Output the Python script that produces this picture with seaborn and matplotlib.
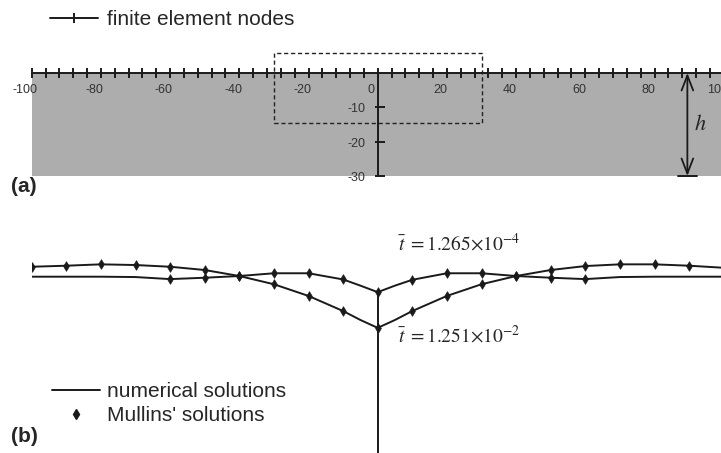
import matplotlib
matplotlib.use("Agg")
import matplotlib.pyplot as plt
import seaborn as sns
from matplotlib.lines import Line2D
from matplotlib.patches import Rectangle

# ---------------- data ----------------
# (a) finite element mesh of the surface
node_x = list(range(-100, 101, 4))
x_tick_values = [-100, -80, -60, -40, -20, 0, 20, 40, 60, 80, 100]
depth_tick_values = [-10, -20, -30]
domain_depth = -30
window_x = [-30, 30]
window_y = [-14.6, 5.8]
h_arrow_x = 89.5

# (b) surface profiles
profile_x = [-100, -90, -80, -70, -60, -50, -40, -30, -20, -10, -5, 0,
             5, 10, 20, 30, 40, 50, 60, 70, 80, 90, 100]
num_short = [0.0, 0.0, 0.0, -0.1, -0.7, -0.3, 0.2, 1.0, 1.0, -0.8, -2.6, -4.5,
             -2.6, -0.9, 1.0, 1.0, 0.2, -0.3, -0.7, -0.1, 0.0, 0.0, 0.0]
num_long = [2.9, 3.2, 3.6, 3.4, 2.9, 1.95, 0.2, -2.2, -5.6, -10.0, -12.6, -14.9,
            -12.6, -10.0, -5.6, -2.2, 0.2, 1.95, 3.1, 3.6, 3.6, 3.2, 2.6]

mullins_x_short = [-60, -50, -40, -30, -20, -10, 0, 10, 20, 30, 40, 50, 60]
mullins_short = [-0.7, -0.3, 0.2, 1.0, 1.0, -0.8, -4.5, -0.9, 1.0, 1.0, 0.2, -0.3, -0.7]
mullins_x_long = [-100, -90, -80, -70, -60, -50, -40, -30, -20, -10, 0,
                  10, 20, 30, 40, 50, 60, 70, 80, 90]
mullins_long = [2.9, 3.2, 3.6, 3.4, 2.9, 1.95, 0.2, -2.2, -5.6, -10.0, -14.9,
                -10.0, -5.6, -2.2, 0.2, 1.95, 3.1, 3.6, 3.6, 3.2]

label_short = r"$\bar{t}\;{=}1.265{\times}10^{-4}$"
label_long = r"$\bar{t}\;{=}1.251{\times}10^{-2}$"

# ---------------- style ----------------
sns.set_theme(style="white")
plt.rcParams["font.family"] = ["Liberation Sans", "DejaVu Sans"]
plt.rcParams["mathtext.fontset"] = "stix"

W, H = 721, 453
fig = plt.figure(figsize=(W / 100, H / 100), dpi=100)
fig.patch.set_facecolor("white")

def fx(px):
    return px / W

def fy(py):
    return 1 - py / H

x0_px, x_w_px = 31.7, 692.0

# ---------------- (a) ----------------
ax1 = fig.add_axes([fx(x0_px), fy(196), x_w_px / W, 156 / H])
ax1.set_xlim(-100, 100)
ax1.set_ylim(-35.83, 9.61)
ax1.set_axis_off()

ax1.fill_between([min(node_x), max(node_x)], domain_depth, 0,
                 color="#adadad", lw=0, zorder=1)
ax1.plot(node_x, [0] * len(node_x), color="k", lw=1.4,
         marker="|", markersize=7, markeredgewidth=1.4,
         markeredgecolor="k", clip_on=False, zorder=6)

# vertical depth axis
depth_line = [0] + depth_tick_values
ax1.plot([0] * len(depth_line), depth_line, color="k", lw=1.4, zorder=4)
ax1.plot([0.6] * len(depth_tick_values), depth_tick_values, ls="none",
         marker="_", markersize=7, markeredgewidth=1.4, color="k", zorder=4)
for v in depth_tick_values:
    ax1.text(-3.5, v - 0.6, f"{v}", ha="right", va="center",
             fontsize=9, color="#333333")
for v in x_tick_values:
    ax1.text(v - 1.8, -4.9, f"{v}", ha="center", va="center",
             fontsize=9, color="#333333", clip_on=False)

# dashed window
ax1.add_patch(Rectangle((window_x[0], window_y[0]), window_x[1] - window_x[0],
                        window_y[1] - window_y[0], fill=False, ec="#222222",
                        lw=1.0, ls=(0, (3, 2)), zorder=3))

# thickness arrow h
ax1.annotate("", xy=(h_arrow_x, domain_depth), xytext=(h_arrow_x, 0),
             arrowprops=dict(arrowstyle="<->,head_length=0.9,head_width=0.35",
                             color="k", lw=1.3, shrinkA=0, shrinkB=0),
             zorder=5)
ax1.plot([h_arrow_x - 2.7, h_arrow_x + 2.7], [domain_depth, domain_depth],
         color="k", lw=1.4, zorder=5)
ax1.text(h_arrow_x + 3.8, -15.1, r"$h$", fontsize=16, ha="center", va="center")

fig.legend(handles=[Line2D([], [], color="k", lw=1.4, marker="|",
                           markersize=7, markeredgewidth=1.4)],
           labels=["finite element nodes"], loc="upper left",
           bbox_to_anchor=(fx(50), fy(10)), frameon=False, fontsize=15,
           handlelength=2.3, handletextpad=0.45, borderpad=0,
           borderaxespad=0)
fig.text(fx(11), fy(186), "(a)", fontsize=15, fontweight="bold",
         ha="left", va="center")

# ---------------- (b) ----------------
ax2 = fig.add_axes([fx(x0_px), 0, x_w_px / W, 253 / H])
ax2.set_xlim(-100, 100)
ax2.set_ylim(-51.35, 22.34)
ax2.set_axis_off()

sns.lineplot(x=profile_x, y=num_short, ax=ax2, color="k", lw=1.4,
             errorbar=None, sort=False)
sns.lineplot(x=profile_x, y=num_long, ax=ax2, color="k", lw=1.4,
             errorbar=None, sort=False)
sns.scatterplot(x=mullins_x_short, y=mullins_short, ax=ax2, marker="d",
                s=24, color="k", edgecolor="k", linewidth=0.5, zorder=5)
sns.scatterplot(x=mullins_x_long, y=mullins_long, ax=ax2, marker="d",
                s=24, color="k", edgecolor="k", linewidth=0.5, zorder=5)
cusp = num_short[profile_x.index(0)]
ax2.plot([0, 0], [cusp, ax2.get_ylim()[0]], color="k", lw=1.4)

ax2.text(5.9, 7.7, label_short, fontsize=14, ha="left", va="baseline")
ax2.text(5.9, -19.3, label_long, fontsize=14, ha="left", va="baseline")

fig.legend(handles=[Line2D([], [], color="k", lw=1.4),
                    Line2D([], [], ls="none", marker="d", color="k",
                           markersize=5)],
           labels=["numerical solutions", "Mullins' solutions"],
           loc="upper left", bbox_to_anchor=(fx(52), fy(382)),
           frameon=False, fontsize=15, handlelength=2.3,
           handletextpad=0.35, borderpad=0, borderaxespad=0,
           labelspacing=0.25)
fig.text(fx(11), fy(437), "(b)", fontsize=15, fontweight="bold",
         ha="left", va="center")

fig.savefig("out.png", dpi=100)
